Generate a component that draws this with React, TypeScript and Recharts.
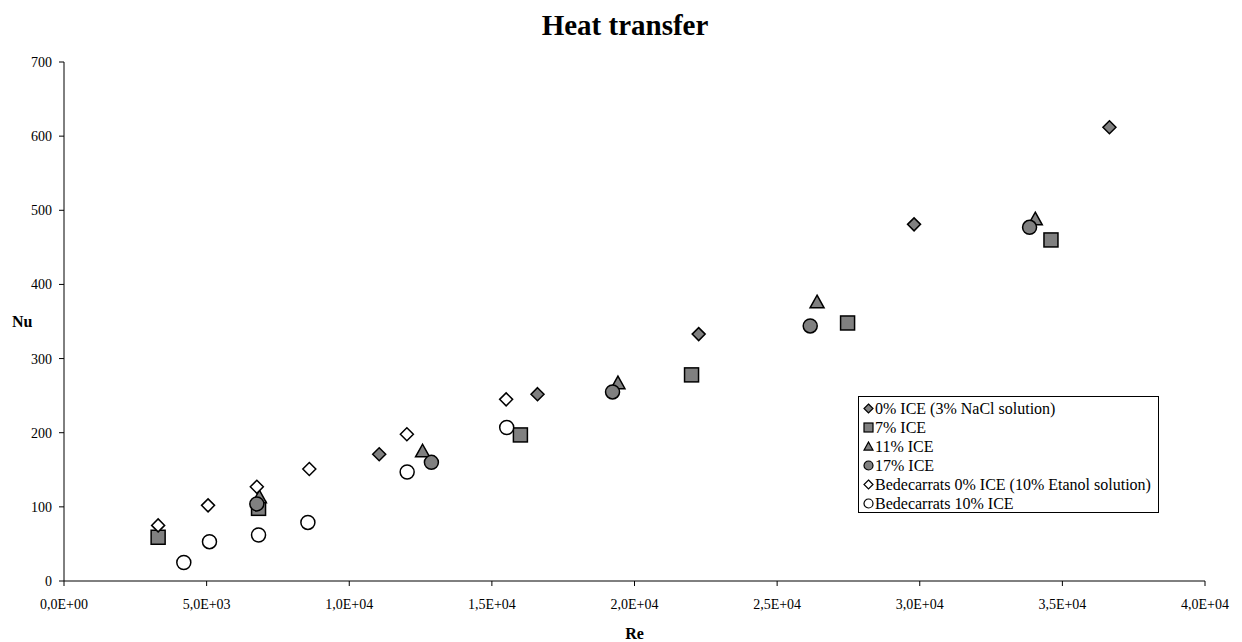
import { ScatterChart, Scatter, XAxis, YAxis, Label } from 'recharts';

const FONT = '"Liberation Serif", "Times New Roman", serif';

// Re / Nu values
const nacl0Re = [11050, 16600, 22250, 29800, 36650];
const nacl0Nu = [171, 252, 333, 481, 612];
const ice7Re = [3300, 6820, 16000, 22000, 27470, 34600];
const ice7Nu = [59, 98, 197, 278, 348, 460];
const ice11Re = [6850, 12570, 19420, 26400, 34050];
const ice11Nu = [113, 175, 267, 376, 488];
const ice17Re = [6760, 12880, 19230, 26160, 33850];
const ice17Nu = [104, 160, 255, 344, 477];
const bed0Re = [3300, 5050, 6760, 8600, 12020, 15500];
const bed0Nu = [75, 102, 127, 151, 198, 245];
const bed10Re = [4200, 5100, 6820, 8550, 12030, 15520];
const bed10Nu = [25, 53, 62, 79, 147, 207];

const xTicks = [0, 5000, 10000, 15000, 20000, 25000, 30000, 35000, 40000];
const yTicks = [0, 100, 200, 300, 400, 500, 600, 700];

type Kind = 'diamond' | 'square' | 'triangle' | 'circle';

const series: { name: string; kind: Kind; fill: string; re: number[]; nu: number[] }[] = [
  { name: '0% ICE (3% NaCl solution)', kind: 'diamond', fill: '#808080', re: nacl0Re, nu: nacl0Nu },
  { name: '7% ICE', kind: 'square', fill: '#808080', re: ice7Re, nu: ice7Nu },
  { name: '11% ICE', kind: 'triangle', fill: '#808080', re: ice11Re, nu: ice11Nu },
  { name: '17% ICE', kind: 'circle', fill: '#808080', re: ice17Re, nu: ice17Nu },
  { name: 'Bedecarrats 0% ICE (10% Etanol solution)', kind: 'diamond', fill: '#ffffff', re: bed0Re, nu: bed0Nu },
  { name: 'Bedecarrats 10% ICE', kind: 'circle', fill: '#ffffff', re: bed10Re, nu: bed10Nu },
];

function fmtSci(v: number) {
  if (v === 0) return '0,0E+00';
  const e = Math.floor(Math.log10(Math.abs(v)));
  const m = v / Math.pow(10, e);
  return `${m.toFixed(1).replace('.', ',')}E${e < 0 ? '-' : '+'}${String(Math.abs(e)).padStart(2, '0')}`;
}

function marker(kind: Kind, fill: string, cx: number, cy: number, s: number, sw = 1.5) {
  const h = s / 2;
  const common = { fill, stroke: '#000', strokeWidth: sw };
  if (kind === 'diamond') {
    return <polygon points={`${cx},${cy - h} ${cx + h},${cy} ${cx},${cy + h} ${cx - h},${cy}`} {...common} />;
  }
  if (kind === 'square') {
    return <rect x={cx - h} y={cy - h} width={s} height={s} {...common} />;
  }
  if (kind === 'triangle') {
    return <polygon points={`${cx},${cy - h} ${cx + h},${cy + h * 0.8} ${cx - h},${cy + h * 0.8}`} {...common} />;
  }
  return <circle cx={cx} cy={cy} r={h} {...common} />;
}

const markerSize: Record<Kind, number> = { diamond: 13, square: 14, triangle: 14, circle: 14 };

function XTick(props: any) {
  const { x, y, payload } = props;
  return (
    <text x={x} y={y} dy="0.71em" textAnchor="middle" fill="#000" fontFamily={FONT} fontSize={14}>
      {fmtSci(payload.value)}
    </text>
  );
}

function YTick(props: any) {
  const { x, y, payload } = props;
  return (
    <text x={x} y={y} dy="0.355em" textAnchor="end" fill="#000" fontFamily={FONT} fontSize={14}>
      {payload.value}
    </text>
  );
}

function LegendBox() {
  return (
    <div
      style={{
        position: 'absolute',
        left: 858,
        top: 396,
        border: '1px solid #000',
        background: '#fff',
        width: 301,
        height: 117,
        padding: '2px 0 0 4px',
        fontFamily: FONT,
        fontSize: 16,
        color: '#000',
        boxSizing: 'border-box',
      }}
    >
      {series.map((s) => (
        <div key={s.name} style={{ height: 19, display: 'flex', alignItems: 'center', whiteSpace: 'nowrap' }}>
          <svg width={11} height={11} style={{ marginRight: 1 }}>
            {marker(s.kind, s.fill, 5.5, 5.5, 9, 1.2)}
          </svg>
          <span>{s.name}</span>
        </div>
      ))}
    </div>
  );
}

export default function App() {
  return (
    <div style={{ position: 'absolute', left: 0, top: 0, width: 1242, height: 642, background: '#fff' }}>
      <div
        style={{
          position: 'absolute',
          top: 9,
          left: 0,
          width: 1250,
          textAlign: 'center',
          fontFamily: FONT,
          fontWeight: 'bold',
          fontSize: 29,
          color: '#000',
        }}
      >
        Heat transfer
      </div>
      <ScatterChart width={1242} height={642} margin={{ top: 62, right: 37, bottom: 0, left: 0 }}>
        <XAxis
          type="number"
          dataKey="re"
          domain={[0, 40000]}
          ticks={xTicks}
          height={61}
          tickSize={5}
          tickMargin={13}
          stroke="#000"
          tick={<XTick />}
          interval={0}
        >
          <Label
            value="Re"
            position="insideBottom"
            offset={3}
            style={{ fontFamily: FONT, fontSize: 16, fontWeight: 'bold', fill: '#000' }}
          />
        </XAxis>
        <YAxis
          type="number"
          dataKey="nu"
          domain={[0, 700]}
          ticks={yTicks}
          width={64}
          tickSize={5}
          tickMargin={7}
          stroke="#000"
          tick={<YTick />}
          interval={0}
        >
          <Label
            value="Nu"
            position="insideLeft"
            offset={5}
            dx={7}
            style={{ fontFamily: FONT, fontSize: 16, fontWeight: 'bold', fill: '#000' }}
          />
        </YAxis>
        {series.map((s) => (
          <Scatter
            key={s.name}
            name={s.name}
            data={s.re.map((re, i) => ({ re, nu: s.nu[i] }))}
            isAnimationActive={false}
            shape={(p: any) => marker(s.kind, s.fill, p.cx, p.cy, markerSize[s.kind])}
          />
        ))}
      </ScatterChart>
      <LegendBox />
    </div>
  );
}
